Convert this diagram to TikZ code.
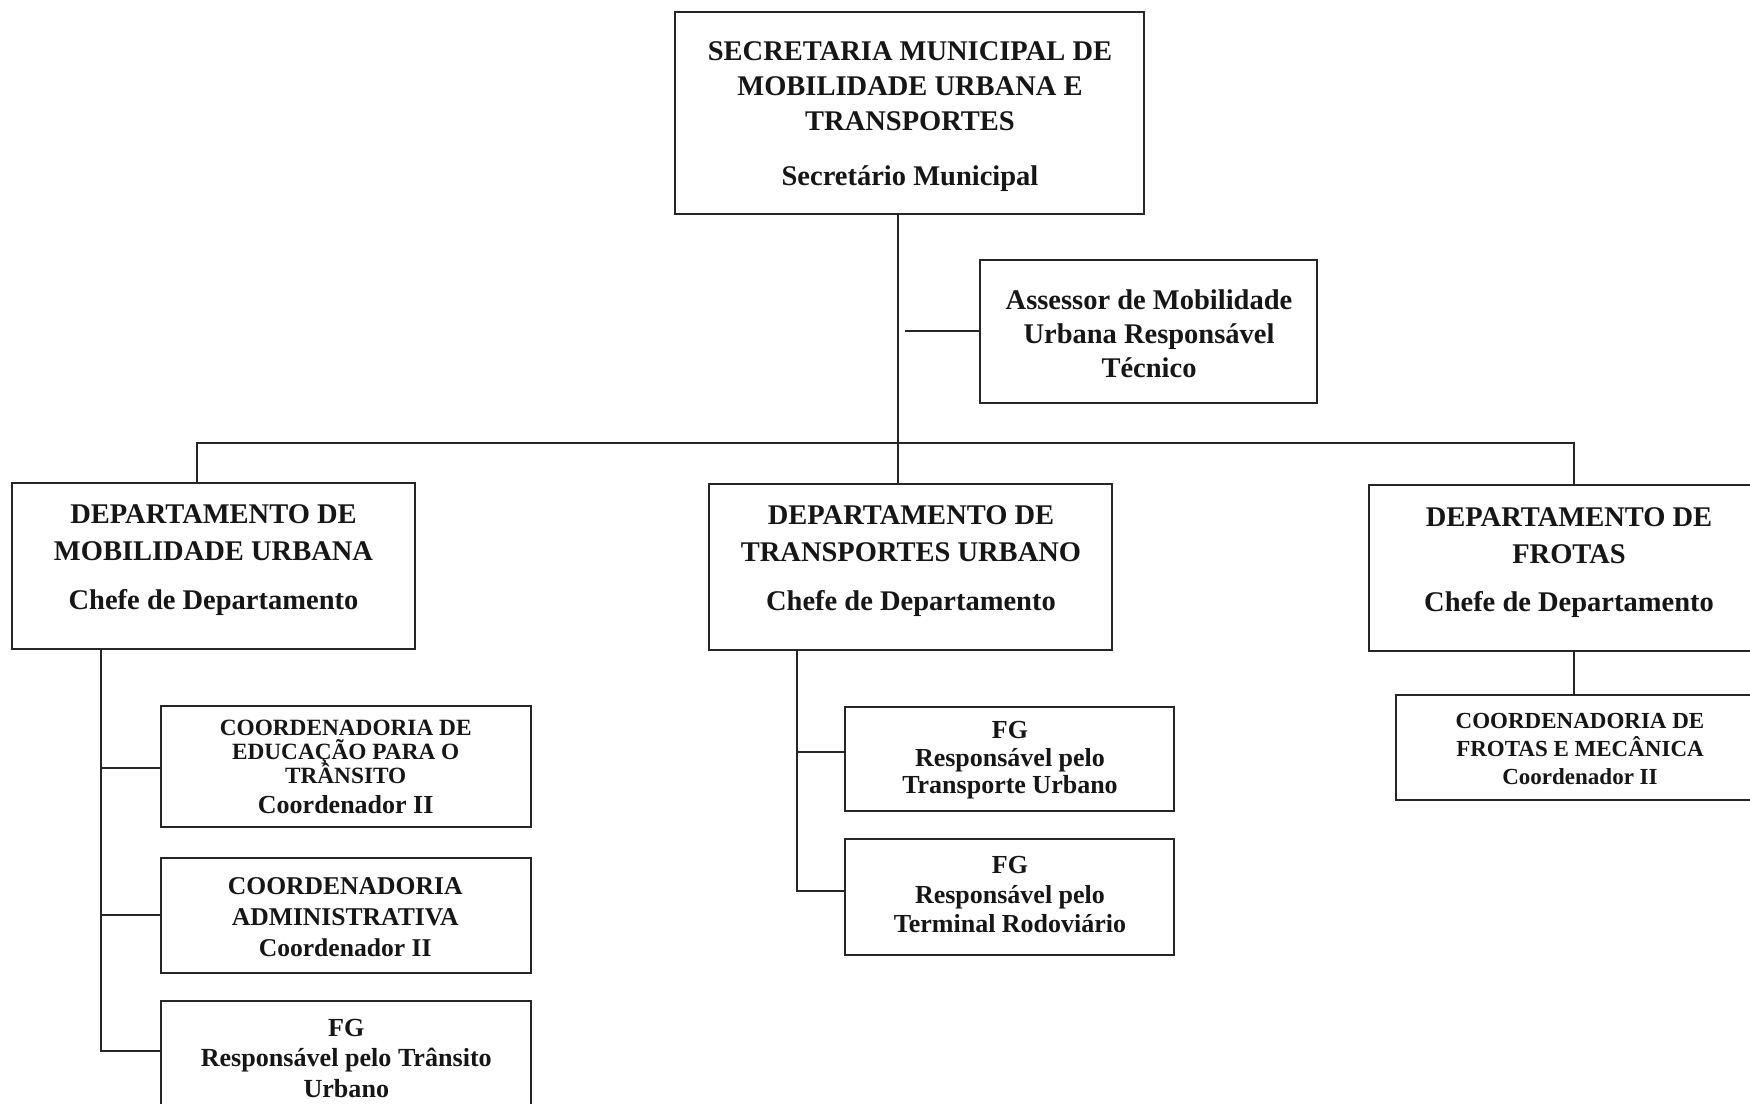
\documentclass[tikz,border=0pt]{standalone}
\usepackage{fontspec}
\setmainfont{Liberation Serif}
% bold serif at a given size and fixed line pitch
\newcommand\orgfont[2]{\fontsize{#1}{#2}\selectfont\bfseries\lineskiplimit=-100pt\relax}
\definecolor{lc}{HTML}{262626}
\definecolor{tc}{HTML}{161616}
\begin{document}
\begin{tikzpicture}[x=1pt,y=-1pt,
  box/.style={draw=lc, line width=2pt, rectangle, inner sep=0pt},
  wire/.style={draw=lc, line width=2pt, line join=miter},
  txt/.style={anchor=north, align=center, inner sep=0pt, text=tc}]
\useasboundingbox[fill=white] (0,0) rectangle (1750,1103);

% ---- boxes ----
\node[box, minimum width=469pt, minimum height=202pt] (sec) at (909.5,113) {};
\node[box, minimum width=337pt, minimum height=143pt] (ass) at (1148.5,331.5) {};
\node[box, minimum width=403pt, minimum height=166pt] (d1) at (213.75,566) {};
\node[box, minimum width=403pt, minimum height=166pt] (d2) at (910.5,567) {};
\node[box, minimum width=406pt, minimum height=166pt] (d3) at (1572,568) {};
\node[box, minimum width=370pt, minimum height=121pt] (ca) at (346,766.5) {};
\node[box, minimum width=370pt, minimum height=115pt] (cb) at (346,915.5) {};
\node[box, minimum width=370pt, minimum height=120pt] (cc) at (346,1061) {};
\node[box, minimum width=329pt, minimum height=104pt] (fd) at (1009.5,759) {};
\node[box, minimum width=329pt, minimum height=116pt] (fe) at (1009.5,897) {};
\node[box, minimum width=368pt, minimum height=105pt] (cf) at (1580,747.5) {};

% ---- texts ----
\node[txt, font=\orgfont{28.5}{35}] (sec-t) at (910,41.6)
  {SECRETARIA MUNICIPAL DE\\MOBILIDADE URBANA E\\TRANSPORTES\\[19.7pt]Secretário Municipal};
\node[txt, font=\orgfont{28.5}{34}] (ass-t) at (1149,290)
  {Assessor de Mobilidade\\Urbana Responsável\\Técnico};
\node[txt, font=\orgfont{28.5}{37}] (d1-t) at (213.5,504.1)
  {DEPARTAMENTO DE\\MOBILIDADE URBANA\\[12.3pt]Chefe de Departamento};
\node[txt, font=\orgfont{28.5}{37}] (d2-t) at (911,505.2)
  {DEPARTAMENTO DE\\TRANSPORTES URBANO\\[12.3pt]Chefe de Departamento};
\node[txt, font=\orgfont{28.5}{37}] (d3-t) at (1569,507.2)
  {DEPARTAMENTO DE\\FROTAS\\[11.5pt]Chefe de Departamento};
\node[txt, font=\orgfont{23.3}{24}] (ca-t) at (345.7,720)
  {COORDENADORIA DE\\EDUCAÇÃO PARA O\\TRÂNSITO\\[6pt]{\orgfont{26}{30}Coordenador II}};
\node[txt, font=\orgfont{25.6}{31}] (cb-t) at (345.2,877.2)
  {COORDENADORIA\\ADMINISTRATIVA\\Coordenador II};
\node[txt, font=\orgfont{26.1}{30.5}] (cc-t) at (346.3,1019)
  {FG\\Responsável pelo Trânsito\\Urbano};
\node[txt, font=\orgfont{26}{27.5}] (fd-t) at (1010,721.5)
  {FG\\Responsável pelo\\Transporte Urbano};
\node[txt, font=\orgfont{26}{29.5}] (fe-t) at (1010,856.5)
  {FG\\Responsável pelo\\Terminal Rodoviário};
\node[txt, font=\orgfont{23}{27.7}] (cf-t) at (1580,713.4)
  {COORDENADORIA DE\\FROTAS E MECÂNICA\\Coordenador II};

% ---- junction points ----
\coordinate (hub) at (898,443);
\coordinate (asj) at (905,331);
\coordinate (busL) at (197,443);
\coordinate (busR) at (1574,443);
\coordinate (jA) at (101,768);
\coordinate (jB) at (101,915);
\coordinate (jC) at (101,1051);
\coordinate (jD) at (797,752);
\coordinate (jE) at (797,891);

% ---- connectors ----
\draw[wire] (hub |- sec.south) -- (hub |- d2.north);
\draw[wire] (asj) -- (asj -| ass.west);
\draw[wire] (busL |- d1.north) -- (busL) -- (busR) -- (busR |- d3.north);
\draw[wire] (jA |- d1.south) -- (jC) -- (jC -| cc.west);
\draw[wire] (jA) -- (jA -| ca.west);
\draw[wire] (jB) -- (jB -| cb.west);
\draw[wire] (jD |- d2.south) -- (jE) -- (jE -| fe.west);
\draw[wire] (jD) -- (jD -| fd.west);
\draw[wire] (busR |- d3.south) -- (busR |- cf.north);
\end{tikzpicture}
\end{document}
